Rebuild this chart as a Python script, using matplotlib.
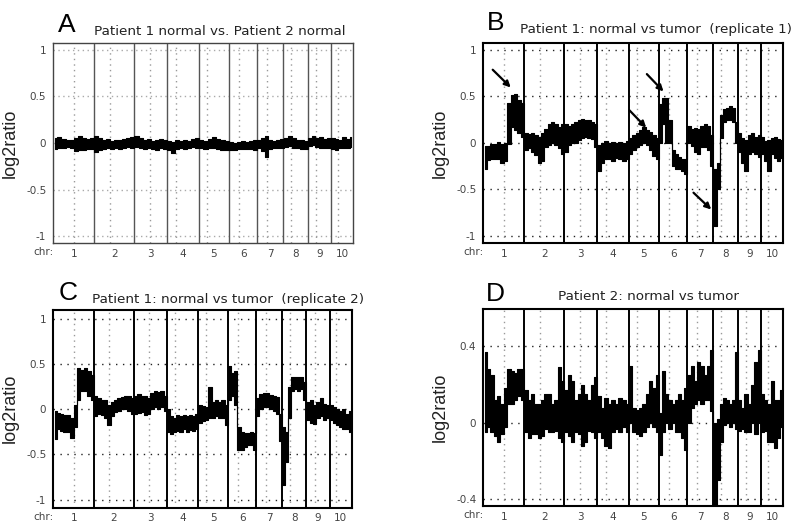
import numpy as np
import matplotlib
matplotlib.use('Agg')
import matplotlib.pyplot as plt

# chromosome layout (Mb)
chrom_names = ['1', '2', '3', '4', '5', '6', '7', '8', '9', '10']
chrom_len = [247.2, 242.9, 199.5, 191.3, 180.9, 170.9, 158.8, 146.3, 140.3, 135.4]
centromere = [124, 93, 92, 51, 48, 61, 60, 45, 50, 40]

# band envelope (upper / lower log2ratio) per chromosome, read left to right
a_hi = [[0.05, 0.06, 0.04, 0.03, 0.03, 0.05, 0.07, 0.05, 0.04, 0.05],
        [0.07, 0.05, 0.03, 0.04, 0.02, 0.03, 0.03, 0.04, 0.05, 0.06],
        [0.08, 0.05, 0.03, 0.04, 0.02, 0.03, 0.04, 0.03],
        [0.02, 0.01, 0.03, 0.02, 0.03, 0.02, 0.04, 0.05],
        [0.03, 0.02, 0.04, 0.06, 0.04, 0.03, 0.02],
        [0.01, 0.00, 0.01, 0.02, 0.01, 0.02, 0.03],
        [0.03, 0.05, 0.07, 0.03, 0.02, 0.03, 0.04],
        [0.05, 0.07, 0.05, 0.03, 0.03, 0.02],
        [0.05, 0.07, 0.05, 0.06, 0.04, 0.05],
        [0.05, 0.04, 0.03, 0.06, 0.04, 0.06]]
a_lo = [[-0.06, -0.05, -0.05, -0.04, -0.05, -0.09, -0.08, -0.07, -0.06, -0.06],
        [-0.10, -0.07, -0.06, -0.05, -0.06, -0.05, -0.06, -0.05, -0.04, -0.05],
        [-0.04, -0.05, -0.06, -0.05, -0.06, -0.07, -0.05, -0.06],
        [-0.07, -0.11, -0.06, -0.05, -0.06, -0.05, -0.04, -0.05],
        [-0.05, -0.06, -0.05, -0.05, -0.06, -0.07, -0.07],
        [-0.07, -0.07, -0.06, -0.06, -0.06, -0.06, -0.07],
        [-0.05, -0.09, -0.15, -0.06, -0.05, -0.05, -0.05],
        [-0.04, -0.03, -0.05, -0.05, -0.06, -0.06],
        [-0.03, -0.02, -0.04, -0.05, -0.05, -0.05],
        [-0.06, -0.07, -0.05, -0.05, -0.05, -0.04]]

b_hi = [[-0.03, -0.03, -0.01, -0.01, 0.01, -0.01, 0.0, 0.43, 0.52, 0.53, 0.46, 0.43],
        [0.10, 0.09, 0.10, 0.08, 0.06, 0.10, 0.15, 0.20, 0.22, 0.20, 0.17, 0.20],
        [0.20, 0.18, 0.20, 0.22, 0.25, 0.26, 0.25, 0.24, 0.22, 0.20],
        [-0.02, 0.0, 0.02, 0.0, 0.01, 0.0, 0.01, 0.0, 0.02],
        [0.05, 0.08, 0.10, 0.14, 0.17, 0.14, 0.12, 0.08, 0.05],
        [0.42, 0.48, 0.48, 0.25, -0.08, -0.12, -0.15, -0.17, -0.18],
        [0.18, 0.15, 0.16, 0.15, 0.18, 0.20, 0.18, 0.08],
        [-0.28, -0.22, 0.30, 0.36, 0.38, 0.40, 0.37, 0.22],
        [0.10, 0.05, 0.03, 0.08, 0.10, 0.06, 0.08],
        [0.06, 0.02, 0.03, 0.05, 0.06, 0.04, 0.03]]
b_lo = [[-0.28, -0.19, -0.17, -0.17, -0.17, -0.22, -0.20, -0.01, 0.17, 0.14, 0.10, 0.06],
        [-0.08, -0.06, -0.10, -0.13, -0.22, -0.20, -0.05, -0.02, 0.0, -0.02, -0.06, -0.12],
        [-0.10, -0.02, 0.0, 0.0, 0.03, 0.05, 0.06, 0.05, 0.04, -0.05],
        [-0.30, -0.22, -0.18, -0.17, -0.20, -0.16, -0.18, -0.20, -0.18],
        [-0.12, -0.08, -0.05, -0.02, 0.0, -0.02, -0.08, -0.14, -0.18],
        [0.0, 0.20, 0.0, 0.0, -0.25, -0.28, -0.28, -0.30, -0.34],
        [0.0, -0.03, -0.10, -0.12, -0.05, -0.05, -0.08, -0.25],
        [-0.90, -0.50, 0.05, 0.22, 0.24, 0.25, 0.22, 0.0],
        [-0.10, -0.22, -0.30, -0.12, -0.10, -0.12, -0.15],
        [-0.12, -0.20, -0.30, -0.12, -0.16, -0.20, -0.16]]

c_hi = [[-0.02, -0.04, -0.05, -0.06, -0.07, -0.10, 0.05, 0.45, 0.43, 0.45, 0.42, 0.38],
        [0.15, 0.12, 0.10, 0.10, 0.05, 0.08, 0.10, 0.12, 0.13, 0.15, 0.14, 0.12],
        [0.15, 0.17, 0.15, 0.14, 0.12, 0.18, 0.20, 0.19, 0.20, 0.15],
        [0.0, -0.08, -0.10, -0.06, -0.08, -0.06, -0.08, -0.06, -0.08, -0.05],
        [0.05, 0.03, 0.02, 0.25, 0.08, 0.10, 0.08, 0.10, 0.05],
        [0.48, 0.40, 0.42, -0.20, -0.25, -0.26, -0.26, -0.25, -0.26],
        [0.12, 0.17, 0.18, 0.18, 0.16, 0.15, 0.13, -0.05],
        [-0.20, -0.25, 0.25, 0.35, 0.36, 0.35, 0.36, 0.30],
        [0.08, 0.10, 0.05, 0.08, 0.12, 0.06, 0.05],
        [0.05, 0.02, 0.0, -0.02, 0.0, -0.05, -0.02]]
c_lo = [[-0.33, -0.22, -0.24, -0.25, -0.25, -0.32, -0.20, 0.10, 0.20, 0.20, 0.15, 0.10],
        [-0.08, -0.05, -0.06, -0.10, -0.18, -0.08, -0.03, -0.02, 0.0, 0.0, -0.02, -0.05],
        [-0.05, -0.04, -0.03, -0.06, -0.05, 0.0, 0.02, 0.0, 0.02, -0.02],
        [-0.25, -0.27, -0.25, -0.24, -0.25, -0.22, -0.25, -0.23, -0.24, -0.22],
        [-0.15, -0.13, -0.12, -0.10, -0.10, -0.08, -0.10, -0.10, -0.18],
        [0.10, 0.15, 0.05, -0.45, -0.45, -0.42, -0.40, -0.40, -0.45],
        [-0.08, 0.0, 0.02, 0.02, 0.0, -0.02, -0.05, -0.35],
        [-0.84, -0.58, -0.10, 0.20, 0.22, 0.20, 0.22, 0.10],
        [-0.12, -0.15, -0.16, -0.10, -0.08, -0.12, -0.10],
        [-0.12, -0.15, -0.18, -0.20, -0.22, -0.22, -0.25]]

d_hi = [[0.37, 0.28, 0.25, 0.12, 0.14, 0.10, 0.18, 0.28, 0.27, 0.26, 0.28, 0.28],
        [0.17, 0.12, 0.15, 0.10, 0.10, 0.12, 0.15, 0.15, 0.10, 0.12, 0.29, 0.22],
        [0.17, 0.25, 0.22, 0.12, 0.15, 0.20, 0.15, 0.12, 0.20, 0.24],
        [0.14, 0.08, 0.13, 0.10, 0.12, 0.10, 0.13, 0.12, 0.10],
        [0.30, 0.08, 0.07, 0.08, 0.10, 0.15, 0.22, 0.18, 0.25],
        [0.05, 0.27, 0.15, 0.12, 0.10, 0.12, 0.15, 0.12, 0.18],
        [0.25, 0.30, 0.22, 0.32, 0.30, 0.25, 0.30, 0.38],
        [0.0, 0.02, 0.10, 0.13, 0.12, 0.10, 0.12, 0.37],
        [0.12, 0.08, 0.15, 0.10, 0.20, 0.32, 0.38],
        [0.15, 0.12, 0.10, 0.22, 0.12, 0.12, 0.17]]
d_lo = [[-0.05, -0.02, -0.05, -0.07, -0.10, -0.06, -0.02, 0.10, 0.10, 0.12, 0.14, 0.12],
        [-0.05, -0.08, -0.06, -0.06, -0.08, -0.07, -0.03, -0.05, -0.05, -0.04, -0.08, -0.10],
        [-0.05, -0.07, -0.10, -0.05, -0.06, -0.12, -0.10, -0.04, -0.05, -0.08],
        [-0.05, -0.08, -0.12, -0.13, -0.05, -0.03, -0.05, -0.02, -0.05],
        [0.0, -0.05, -0.06, -0.07, -0.05, -0.02, 0.0, -0.02, -0.05],
        [-0.17, -0.05, 0.0, -0.03, 0.0, -0.05, -0.05, -0.08, -0.14],
        [0.0, 0.08, 0.10, 0.12, 0.10, 0.12, 0.12, 0.06],
        [-0.44, -0.30, -0.10, -0.01, 0.0, -0.02, 0.0, -0.03],
        [-0.04, -0.03, -0.05, -0.05, 0.0, -0.06, 0.0],
        [-0.05, -0.04, -0.10, -0.10, -0.13, -0.08, -0.02]]

titles = ['Patient 1 normal vs. Patient 2 normal',
          'Patient 1: normal vs tumor  (replicate 1)',
          'Patient 1: normal vs tumor  (replicate 2)',
          'Patient 2: normal vs tumor']
letters = ['A', 'B', 'C', 'D']


def draw_panel(ax, hi, lo, ylim, yticks, yticklabels, light):
    starts = np.concatenate([[0], np.cumsum(chrom_len)[:-1]])
    total = sum(chrom_len)
    xs, his, los = [], [], []
    for c in range(len(chrom_len)):
        n = len(hi[c])
        xs.extend(starts[c] + (np.arange(n) + 0.5) / n * chrom_len[c])
        his.extend(hi[c])
        los.extend(lo[c])

    grid_col = '#aaaaaa' if light else '#222222'
    grid_ls = (0, (1, 2.5)) if light else (0, (1, 4))
    for y in yticks:
        ax.axhline(y, color=grid_col, ls=grid_ls, lw=1.0, zorder=1)
    for c in range(len(chrom_len)):
        ax.axvline(starts[c] + centromere[c], color='#999999',
                   ls=(0, (1, 3)), lw=1.0, zorder=1)
    for c in range(1, len(chrom_len)):
        ax.axvline(starts[c], color='#555555' if light else 'black',
                   lw=1.0 if light else 1.4, zorder=2)

    ax.fill_between(xs, los, his, step='mid', color='black',
                    edgecolor='black', lw=0.8, zorder=3)

    ax.set_xlim(0, total)
    ax.set_ylim(*ylim)
    ax.set_yticks(yticks)
    ax.set_yticklabels(yticklabels)
    ax.set_xticks(starts + np.array(chrom_len) / 2)
    ax.set_xticklabels(chrom_names)
    ax.tick_params(length=0, labelsize=7.5, colors='#444444', pad=5)
    ax.tick_params(axis='x', pad=4)
    for s in ax.spines.values():
        s.set_color('#444444' if light else 'black')
        s.set_linewidth(1.0 if light else 1.5)
    ax.text(0, -0.022, 'chr:', transform=ax.transAxes, ha='right', va='top',
            fontsize=7.5, color='#444444')
    ax.set_ylabel('log2ratio', family='Liberation Sans', fontsize=13,
                  color='#222222', labelpad=5)


fig = plt.figure(figsize=(8, 5.29), dpi=100)
W, H = 800.0, 529.0
boxes = [(53.3, 43, 300, 200), (483.3, 43, 300, 200),
         (53.3, 310, 298.5, 197.5), (483.3, 309, 300, 197)]
axs = [fig.add_axes([x / W, 1 - (y + h) / H, w / W, h / H]) for x, y, w, h in boxes]

full_ticks = [-1, -0.5, 0, 0.5, 1]
full_labels = ['-1', '-0.5', '0', '0.5', '1']
draw_panel(axs[0], a_hi, a_lo, (-1.072, 1.072), full_ticks, full_labels, True)
draw_panel(axs[1], b_hi, b_lo, (-1.08, 1.075), full_ticks, full_labels, False)
draw_panel(axs[2], c_hi, c_lo, (-1.086, 1.095), full_ticks, full_labels, False)
draw_panel(axs[3], d_hi, d_lo, (-0.435, 0.596), [-0.4, 0, 0.4],
           ['-0.4', '0', '0.4'], False)

# arrows on panel B
arrows = [((56.9, 0.787), (165.8, 0.596)),
          ((883.4, 0.35), (984.5, 0.163)),
          ((988.7, 0.74), (1089.2, 0.553)),
          ((1270.7, -0.538), (1377.8, -0.719))]
for start, end in arrows:
    axs[1].annotate('', xy=end, xytext=start,
                    arrowprops=dict(arrowstyle='-|>', color='black', lw=1.6,
                                    mutation_scale=9, shrinkA=0, shrinkB=0),
                    zorder=5)

# panel letters and titles
letter_pos = [(58, 31.5), (487, 30), (58.5, 300), (486, 301)]
title_pos = [(94.5, 35), (520, 33.5), (92, 302.5), (557.5, 300)]
for i in range(4):
    lx, ly = letter_pos[i]
    fig.text(lx / W, 1 - ly / H, letters[i], fontsize=19,
             family='Liberation Sans', va='baseline', ha='left')
    tx, ty = title_pos[i]
    fig.text(tx / W, 1 - ty / H, titles[i], fontsize=9.7,
             family='DejaVu Sans', va='baseline', ha='left', color='#222222')

fig.savefig('out.png', dpi=100)
